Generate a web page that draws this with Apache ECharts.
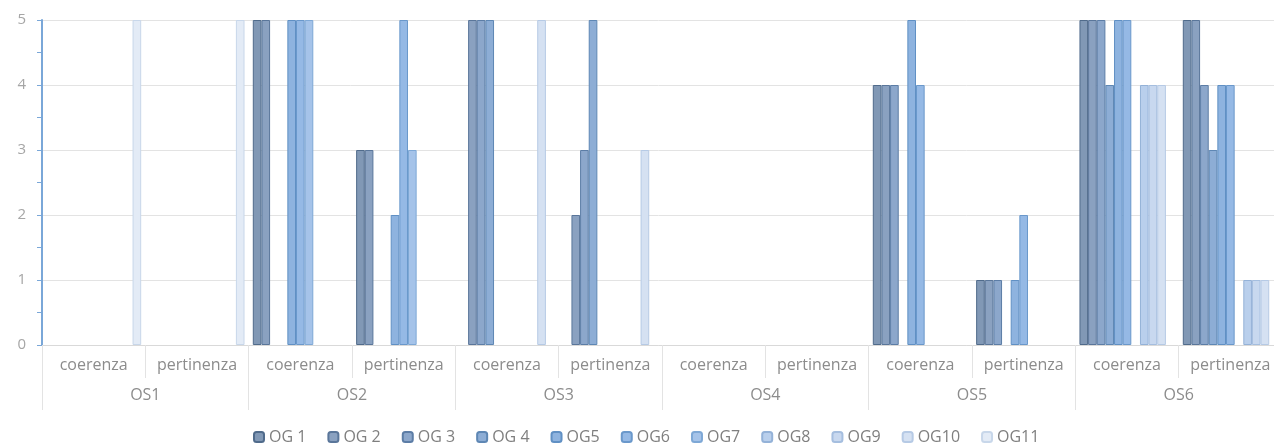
<!DOCTYPE html>
<html>
<head>
<meta charset="utf-8">
<script src="https://cdn.jsdelivr.net/npm/echarts@6/dist/echarts.min.js"></script>
<style>
  html,body{margin:0;padding:0;background:#fff;}
  #chart{width:1274px;height:444px;}
</style>
</head>
<body>
<div id="chart"></div>
<script>
// sub categories (inner level) and groups (outer level)
var sub_labels = ['coerenza','pertinenza','coerenza','pertinenza','coerenza','pertinenza',
                  'coerenza','pertinenza','coerenza','pertinenza','coerenza','pertinenza'];
var group_labels = ['OS1','OS2','OS3','OS4','OS5','OS6'];
var y_ticks = [0,1,2,3,4,5];

var series_names = ['OG 1','OG 2','OG 3','OG 4','OG5','OG6','OG7','OG8','OG9','OG10','OG11'];

// values per series, one per sub category (OS1 coerenza ... OS6 pertinenza)
var og1  = [0,0,5,3,0,0,0,0,4,1,5,5];
var og2  = [0,0,5,3,5,2,0,0,4,1,5,5];
var og3  = [0,0,0,0,5,3,0,0,4,1,5,4];
var og4  = [0,0,0,0,5,5,0,0,0,0,4,3];
var og5  = [0,0,5,2,0,0,0,0,5,1,5,4];
var og6  = [0,0,5,5,0,0,0,0,4,2,5,4];
var og7  = [0,0,5,3,0,0,0,0,0,0,0,0];
var og8  = [0,0,0,0,0,0,0,0,0,0,4,1];
var og9  = [0,0,0,0,0,0,0,0,0,0,4,1];
var og10 = [0,0,0,0,5,3,0,0,0,0,4,1];
var og11 = [5,5,0,0,0,0,0,0,0,0,0,0];

var all_values = [og1,og2,og3,og4,og5,og6,og7,og8,og9,og10,og11];

var fills   = ['#8198b5','#8aa1c0','#8ca7cb','#8dadd5','#8eb3df','#95b9e5',
               '#a5c3e9','#b9cfec','#c8d8ef','#d5e1f2','#e3ebf6'];
var borders = ['#506b8b','#5a769a','#5c7da6','#5e87b4','#6090c4','#6a98cb',
               '#7ea8d6','#94b2d8','#a5bedf','#b6cae5','#c8d7ea'];

function draw_chart(){
  var chart = echarts.init(document.getElementById('chart'));
  var font = '"Open Sans", "DejaVu Sans", sans-serif';
  var series = [];
  for (var i = 0; i < series_names.length; i++) {
    series.push({
      name: series_names[i],
      type: 'bar',
      xAxisIndex: 0,
      barGap: '0%',
      barCategoryGap: '8%',
      // zero values are not drawn (as in the original)
      data: all_values[i].map(function(v){ return v === 0 ? '-' : v; }),
      itemStyle: {
        color: fills[i],
        borderColor: borders[i],
        borderWidth: 1
      }
    });
  }
  var option = {
    animation: false,
    textStyle: { fontFamily: font },
    grid: {
      left: 42,
      right: -8,
      top: 20,
      bottom: 99,
      containLabel: false,
      outerBoundsMode: 'none'
    },
    legend: {
      data: series_names,
      left: 248,
      top: 424,
      itemWidth: 10,
      itemHeight: 10,
      itemGap: 21,
      textStyle: { color: '#7f7f7f', fontSize: 16, fontFamily: font, padding: [0,0,0,0] }
    },
    xAxis: [{
      type: 'category',
      data: sub_labels,
      position: 'bottom',
      axisLine: { show: true, lineStyle: { color: '#d9d9d9', width: 1 } },
      axisTick: { show: true, interval: 0, length: 33, lineStyle: { color: '#e3e3e3' } },
      axisLabel: { interval: 0, margin: 12, color: '#8c8c8c', fontSize: 16, fontFamily: font }
    }, {
      type: 'category',
      data: group_labels,
      position: 'bottom',
      axisLine: { show: false },
      axisTick: { show: true, interval: 0, length: 65, lineStyle: { color: '#e3e3e3' } },
      axisLabel: { interval: 0, margin: 42, color: '#8c8c8c', fontSize: 16, fontFamily: font }
    }],
    yAxis: [{
      type: 'value',
      min: y_ticks[0],
      max: y_ticks[y_ticks.length - 1],
      interval: 1,
      axisLine: { show: true, lineStyle: { color: '#7aa7d8', width: 2 } },
      axisTick: { show: true, length: 5, lineStyle: { color: '#7aa7d8' } },
      minorTick: { show: true, splitNumber: 2, length: 5, lineStyle: { color: '#7aa7d8' } },
      axisLabel: { margin: 16, color: '#a6a6a6', fontSize: 15, fontFamily: font },
      splitLine: { show: true, lineStyle: { color: '#e3e3e3', width: 1 } }
    }],
    series: series
  };
  chart.setOption(option);
}
draw_chart();
</script>
</body>
</html>
